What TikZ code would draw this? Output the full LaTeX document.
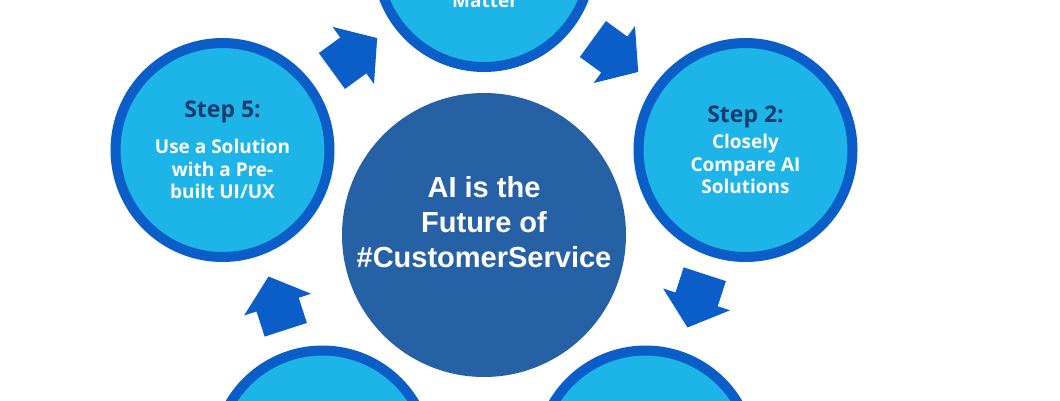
\documentclass[tikz,border=0pt]{standalone}
\usepackage{fontspec}
\setmainfont{Liberation Sans}
\newfontfamily\stepfamily{Open Sans}
\usetikzlibrary{shapes.arrows}
\definecolor{hubblue}{HTML}{2761A5}
\definecolor{ringblue}{HTML}{0B5DC8}
\definecolor{skyblue}{HTML}{1DB5E8}
\definecolor{stepnavy}{HTML}{183B6E}

\begin{document}
\begin{tikzpicture}[x=1pt,y=-1pt,
  stepcircle/.style={circle,draw=ringblue,line width=10pt,fill=skyblue,minimum size=214pt,inner sep=0pt,
    text=white,align=center,font=\stepfamily\bfseries\fontsize{19}{22.5}\selectfont},
  flowarrow/.style={single arrow,fill=ringblue,minimum height=56pt,text height=44pt,text depth=0pt,
    single arrow head extend=13pt,single arrow tip angle=100,inner sep=0pt}]
\useasboundingbox (0,0) rectangle (1060,400);

\begin{scope}[every node/.style={circle,inner sep=0pt}]
\node (hub)[fill=hubblue,minimum size=284pt] at (484,235) {};
\node (hubtext)[text=white,align=center,font=\bfseries\fontsize{29}{35}\selectfont] at (484,222) {AI is the\\Future of\\\#CustomerService};

\node (s1)[stepcircle] at (484,-40) {};
\node (s2)[stepcircle] at (745.5,150) {{\fontsize{23}{23}\selectfont\color{stepnavy}Step 2:}\\[3.5pt]Closely\\Compare AI\\Solutions};
\node (s3)[stepcircle] at (645.6,457.5) {};
\node (s4)[stepcircle] at (322.4,457.5) {};
\node (s5)[stepcircle] at (222.5,150) {{\fontsize{23}{23}\selectfont\color{stepnavy}Step 5:}\\[13.5pt]Use a Solution\\with a Pre-\\built UI/UX};

\node (s1text)[anchor=base,text=white,font=\stepfamily\bfseries\fontsize{19}{22.5}\selectfont] at (485,7) {Matter};
\end{scope}

\node (a51)[flowarrow,rotate=36] at (347,60) {};
\node (a12)[flowarrow,rotate=-36] at (608,50) {};
\node (a23)[flowarrow,rotate=-108] at (699,292) {};
\node (a45)[flowarrow,rotate=108] at (280,312) {};
\end{tikzpicture}
\end{document}
